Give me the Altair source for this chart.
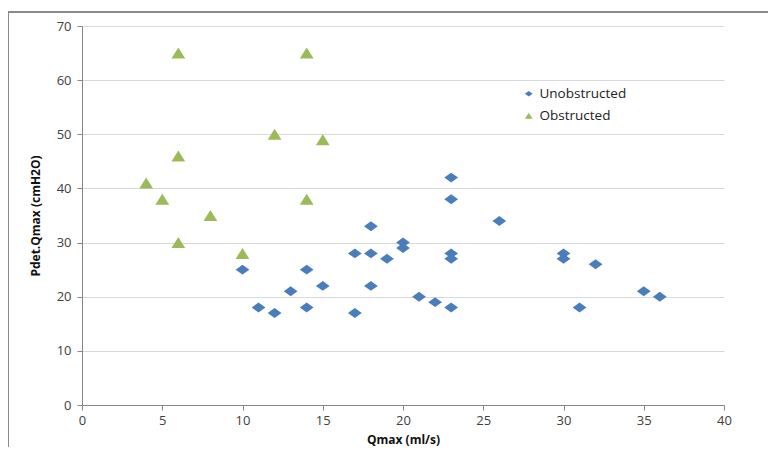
import altair as alt
import pandas as pd

obs_x = [4, 5, 6, 6, 6, 8, 10, 12, 14, 14, 15]
obs_y = [41, 38, 65, 46, 30, 35, 28, 50, 65, 38, 49]
unobs_x = [10, 11, 12, 13, 14, 14, 15, 17, 17, 18, 18, 18, 19, 20, 20, 21, 22,
           23, 23, 23, 23, 23, 26, 30, 30, 31, 32, 35, 36]
unobs_y = [25, 18, 17, 21, 25, 18, 22, 28, 17, 33, 28, 22, 27, 30, 29, 20, 19,
           42, 38, 28, 27, 18, 34, 28, 27, 18, 26, 21, 20]
groups = ["Unobstructed", "Obstructed"]
colors = ["#4a7ebb", "#9bbb59"]

df = pd.concat([
    pd.DataFrame({"Qmax": unobs_x, "Pdet": unobs_y, "Group": groups[0]}),
    pd.DataFrame({"Qmax": obs_x, "Pdet": obs_y, "Group": groups[1]}),
])

FONT = "Open Sans"
diamond = "M-1,0L0,-0.72L1,0L0,0.72Z"
tri = "M0,-0.8L1,0.8L-1,0.8Z"

points = alt.Chart(df).mark_point(filled=True, opacity=1, size=190, stroke=None).encode(
    x=alt.X("Qmax:Q", title="Qmax (ml/s)",
            scale=alt.Scale(domain=[0, 40], nice=False),
            axis=alt.Axis(values=list(range(0, 41, 5)), grid=False, ticks=True,
                          tickSize=5, tickColor="#868686", domainColor="#868686",
                          labelFlush=False, labelPadding=4, titlePadding=7)),
    y=alt.Y("Pdet:Q", title="Pdet.Qmax (cmH2O)",
            scale=alt.Scale(domain=[0, 70], nice=False),
            axis=alt.Axis(values=list(range(0, 71, 10)), grid=True, gridColor="#d9d9d9",
                          ticks=True, tickSize=5, tickColor="#868686", domainColor="#868686",
                          labelPadding=6, titlePadding=14)),
    color=alt.Color("Group:N", scale=alt.Scale(domain=groups, range=colors),
                    legend=alt.Legend(title=None, orient="none", legendX=440, legendY=61,
                                      symbolSize=60, labelFontSize=13.5, labelFont=FONT,
                                      labelColor="#222222", rowPadding=7)),
    shape=alt.Shape("Group:N", scale=alt.Scale(domain=groups, range=[diamond, tri])),
)

frame_top = alt.Chart(df).mark_rule(color="#8a8a8a", strokeWidth=1.2).encode(
    x=alt.value(-74), x2=alt.value(760), y=alt.value(-14))
frame_left = alt.Chart(df).mark_rule(color="#8a8a8a", strokeWidth=1.2).encode(
    x=alt.value(-74), y=alt.value(-14), y2=alt.value(500))

chart = alt.layer(frame_top, frame_left, points).properties(
    width=642, height=379,
    autosize=alt.AutoSizeParams(type="none"),
    padding={"left": 74, "top": 18, "right": 44, "bottom": 42},
).configure_view(stroke=None).configure_axis(
    labelFont=FONT, labelFontSize=13, labelColor="#404040",
    titleFont=FONT, titleFontSize=12, titleFontWeight="bold", titleColor="#111111",
)

chart.save("out.html", embed_options={"renderer": "svg", "actions": False})
